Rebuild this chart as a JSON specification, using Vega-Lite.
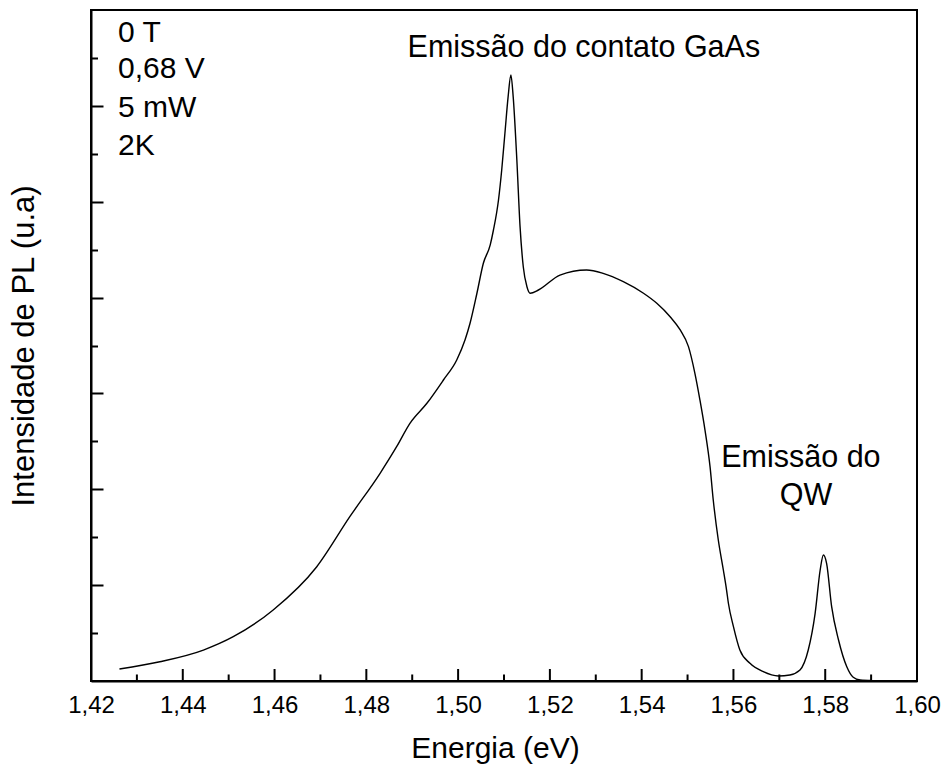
{
  "$schema": "https://vega.github.io/schema/vega-lite/v6.json",
  "width": 826,
  "height": 671,
  "autosize": "none",
  "padding": {"left": 91, "top": 10, "right": 28, "bottom": 94},
  "background": "white",
  "config": {
    "font": "Liberation Sans",
    "view": {"stroke": "black", "strokeWidth": 2},
    "axis": {
      "grid": false,
      "domainColor": "black",
      "domainWidth": 2,
      "tickColor": "black",
      "tickWidth": 2,
      "labelFont": "Liberation Sans",
      "titleFont": "Liberation Sans",
      "labelColor": "black",
      "titleColor": "black",
      "titleFontWeight": "normal"
    }
  },
  "datasets": {
    "spectrum": [
      {"E": 1.4262, "I": 0.125}, {"E": 1.4350, "I": 0.201}, {"E": 1.4445, "I": 0.323},
      {"E": 1.4510, "I": 0.462}, {"E": 1.4597, "I": 0.741}, {"E": 1.4692, "I": 1.192},
      {"E": 1.4764, "I": 1.714}, {"E": 1.4830, "I": 2.167}, {"E": 1.4866, "I": 2.444},
      {"E": 1.4895, "I": 2.688}, {"E": 1.4932, "I": 2.897}, {"E": 1.4968, "I": 3.140},
      {"E": 1.4997, "I": 3.349}, {"E": 1.5015, "I": 3.557}, {"E": 1.5026, "I": 3.732},
      {"E": 1.5041, "I": 4.045}, {"E": 1.5055, "I": 4.358}, {"E": 1.5070, "I": 4.550},
      {"E": 1.5077, "I": 4.705}, {"E": 1.5088, "I": 5.018}, {"E": 1.5095, "I": 5.331},
      {"E": 1.5102, "I": 5.714}, {"E": 1.5109, "I": 6.096}, {"E": 1.5115, "I": 6.322},
      {"E": 1.5120, "I": 6.096}, {"E": 1.5128, "I": 5.435}, {"E": 1.5135, "I": 4.740},
      {"E": 1.5142, "I": 4.322}, {"E": 1.5150, "I": 4.113}, {"E": 1.5157, "I": 4.045},
      {"E": 1.5175, "I": 4.079}, {"E": 1.5222, "I": 4.235}, {"E": 1.5280, "I": 4.288},
      {"E": 1.5316, "I": 4.253}, {"E": 1.5360, "I": 4.166}, {"E": 1.5404, "I": 4.045},
      {"E": 1.5433, "I": 3.940}, {"E": 1.5462, "I": 3.800}, {"E": 1.5484, "I": 3.662},
      {"E": 1.5502, "I": 3.488}, {"E": 1.5516, "I": 3.210}, {"E": 1.5527, "I": 2.931},
      {"E": 1.5538, "I": 2.618}, {"E": 1.5549, "I": 2.236}, {"E": 1.5556, "I": 1.888},
      {"E": 1.5567, "I": 1.471}, {"E": 1.5578, "I": 1.158}, {"E": 1.5585, "I": 0.949},
      {"E": 1.5589, "I": 0.811}, {"E": 1.5600, "I": 0.567}, {"E": 1.5614, "I": 0.323},
      {"E": 1.5636, "I": 0.185}, {"E": 1.5665, "I": 0.097}, {"E": 1.5698, "I": 0.052},
      {"E": 1.5723, "I": 0.063}, {"E": 1.5745, "I": 0.115}, {"E": 1.5763, "I": 0.323},
      {"E": 1.5778, "I": 0.706}, {"E": 1.5789, "I": 1.158}, {"E": 1.5796, "I": 1.314},
      {"E": 1.5803, "I": 1.228}, {"E": 1.5814, "I": 0.775}, {"E": 1.5829, "I": 0.428},
      {"E": 1.5847, "I": 0.149}, {"E": 1.5861, "I": 0.039}, {"E": 1.5876, "I": 0.010},
      {"E": 1.5902, "I": 0.005}
    ],
    "majorTicks": [
      {"E": 1.42}, {"E": 1.44}, {"E": 1.46}, {"E": 1.48}, {"E": 1.50},
      {"E": 1.52}, {"E": 1.54}, {"E": 1.56}, {"E": 1.58}, {"E": 1.60}
    ],
    "minorTicks": [
      {"E": 1.43}, {"E": 1.45}, {"E": 1.47}, {"E": 1.49}, {"E": 1.51},
      {"E": 1.53}, {"E": 1.55}, {"E": 1.57}, {"E": 1.59}
    ],
    "peakLabels": [
      {"label": "Emissão do contato GaAs", "E": 1.5274, "I": 6.51},
      {"label": "Emissão do", "E": 1.5747, "I": 2.232},
      {"label": "QW", "E": 1.5758, "I": 1.836}
    ],
    "conditions": [
      {"label": "0 T", "E": 1.4259, "I": 6.669},
      {"label": "0,68 V", "E": 1.4259, "I": 6.287},
      {"label": "5 mW", "E": 1.4259, "I": 5.887},
      {"label": "2K", "E": 1.4259, "I": 5.487}
    ]
  },
  "layer": [
    {
      "data": {"name": "spectrum"},
      "mark": {"type": "line", "color": "black", "strokeWidth": 1.4, "interpolate": "monotone"},
      "encoding": {
        "x": {
          "field": "E", "type": "quantitative",
          "scale": {"domain": [1.42, 1.60], "nice": false, "zero": false},
          "axis": {
            "orient": "bottom",
            "ticks": false,
            "title": "Energia (eV)",
            "titleFontSize": 30,
            "titlePadding": 16,
            "titleX": 404,
            "values": [1.42, 1.44, 1.46, 1.48, 1.50, 1.52, 1.54, 1.56, 1.58, 1.60],
            "labelExpr": "replace(format(datum.value, '.2f'), '.', ',')",
            "labelFlush": false,
            "labelFontSize": 24,
            "labelPadding": 12
          }
        },
        "y": {
          "field": "I", "type": "quantitative",
          "scale": {"domain": [0, 7], "nice": false},
          "axis": {
            "orient": "left",
            "title": "Intensidade de PL (u.a)",
            "titleFontSize": 31,
            "titlePadding": 50,
            "values": [1, 2, 3, 4, 5, 6],
            "labels": false,
            "tickSize": -12
          }
        }
      }
    },
    {
      "data": {"name": "majorTicks"},
      "mark": {"type": "rule", "color": "black", "strokeWidth": 2},
      "encoding": {
        "x": {"field": "E", "type": "quantitative", "axis": null},
        "y": {"datum": 0, "type": "quantitative", "axis": null},
        "y2": {"datum": 0.125}
      }
    },
    {
      "data": {"name": "minorTicks"},
      "mark": {"type": "rule", "color": "black", "strokeWidth": 2},
      "encoding": {
        "x": {"field": "E", "type": "quantitative", "axis": null},
        "y": {"datum": 0, "type": "quantitative", "axis": null},
        "y2": {"datum": 0.068}
      }
    },
    {
      "data": {"name": "peakLabels"},
      "mark": {"type": "text", "align": "center", "baseline": "alphabetic", "fontSize": 30.5, "color": "black"},
      "encoding": {
        "text": {"field": "label"},
        "x": {"field": "E", "type": "quantitative", "axis": null},
        "y": {
          "field": "I", "type": "quantitative",
          "axis": {
            "orient": "left",
            "title": null,
            "labels": false,
            "domain": false,
            "values": [0.5, 1.5, 2.5, 3.5, 4.5, 5.5, 6.5],
            "tickSize": -6.5
          }
        }
      }
    },
    {
      "data": {"name": "conditions"},
      "mark": {"type": "text", "align": "left", "baseline": "alphabetic", "fontSize": 30, "color": "black"},
      "encoding": {
        "text": {"field": "label"},
        "x": {"field": "E", "type": "quantitative", "axis": null},
        "y": {"field": "I", "type": "quantitative", "axis": null}
      }
    }
  ],
  "resolve": {"axis": {"x": "independent", "y": "independent"}}
}
